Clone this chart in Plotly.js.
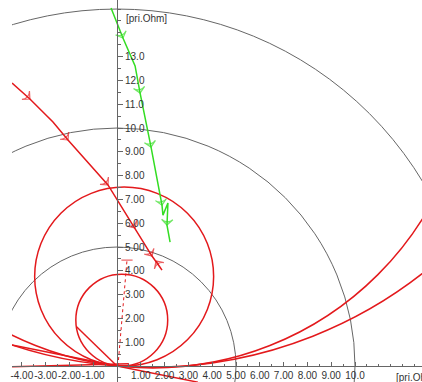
<!DOCTYPE html>
<html><head><meta charset="utf-8">
<script src="https://cdn.plot.ly/plotly-3.0.1.min.js"></script>
<style>html,body{margin:0;padding:0;background:#fff}#chart{width:422px;height:382px}</style>
</head><body><div id="chart"></div>
<script>
// Reference impedance circles (radius, Ohm)
const refRadii = [5, 10, 15];
// Red characteristic circles: centre and radius (Ohm)
const mhoCx = [0.3, 0.2, 1.5, 1.4];
const mhoCy = [3.76, 1.93, 13.3, 18.5];
const mhoR  = [3.76, 1.93, 13.38, 18.55];
// Red straight characteristic lines
const dirLineX = [-4.41, 3.4];   const dirLineY = [0.88, -0.68];
const chordX   = [-1.7, 0];      const chordY   = [1.65, 0];
const lowLineX = [-4.41, 0.5];   const lowLineY = [-0.03, 0.1];
// Dotted setting line
const setX = [0.04, 0.42];       const setY = [0, 4.45];
// Red impedance trajectory
const redX = [-4.41, -3.66, -2.69, -2.06, -0.38, 0.76, 1.47, 1.89, 1.64];
const redY = [11.89, 11.22, 10.25, 9.50, 7.61, 5.80, 4.62, 4.03, 4.41];
const redArrowIdx = [1, 3, 4, 5, 6, 8];
// Green impedance trajectory
const greenX = [-0.25, 0.25, 0.76, 0.97, 1.43, 1.89, 1.93, 2.14, 2.10, 2.23];
const greenY = [15.04, 13.78, 12.61, 11.47, 9.20, 6.76, 6.34, 6.85, 5.92, 5.21];
const greenArrowIdx = [1, 3, 4, 5, 8];
// Tick labels
const xTickVals = [-4, -3, -2, -1, 1, 2, 3, 4, 5, 6, 7, 8, 9, 10];
const xTickText = ['-4.00','-3.00','-2.00','-1.00','1.00','2.00','3.00','4.00','5.00','6.00','7.00','8.00','9.00','10.0'];
const yTickVals = [1, 2, 3, 4, 5, 6, 7, 8, 9, 10, 11, 12, 13];
const yTickText = ['1.00','2.00','3.00','4.00','5.00','6.00','7.00','8.00','9.00','10.0','11.0','12.0','13.0'];
const unitLabel = '[pri.Ohm]';

const RED = '#e3191c', GREEN = '#33dd22', GRAY = '#666666';
const xRange = [-4.412, 12.815];
const yRange = [-0.672, 15.38];

function arrowSizes(n, idx, s) { const a = new Array(n).fill(0); idx.forEach(i => a[i] = s); return a; }

const traces = [
  {x: dirLineX, y: dirLineY, mode: 'lines', line: {color: RED, width: 1.5}},
  {x: chordX, y: chordY, mode: 'lines', line: {color: RED, width: 1.5}},
  {x: lowLineX, y: lowLineY, mode: 'lines', line: {color: RED, width: 1.5}},
  {x: setX, y: setY, mode: 'lines+markers', line: {color: RED, width: 1, dash: 'dot'},
   marker: {symbol: 'line-ew-open', size: [0, 8], line: {color: RED, width: 1.2}}},
  {x: redX, y: redY, mode: 'lines+markers', line: {color: RED, width: 1.5},
   marker: {symbol: 'arrow-wide-open', angleref: 'previous', size: arrowSizes(redX.length, redArrowIdx, 8), color: RED, line: {color: RED, width: 1.2}}},
  {x: greenX, y: greenY, mode: 'lines+markers', line: {color: GREEN, width: 1.5},
   marker: {symbol: 'arrow-wide-open', angleref: 'previous', size: arrowSizes(greenX.length, greenArrowIdx, 8), color: GREEN, line: {color: GREEN, width: 1.2}}}
];

const shapes = [];
refRadii.forEach(r => shapes.push({type: 'circle', xref: 'x', yref: 'y', x0: -r, x1: r, y0: -r, y1: r,
  line: {color: GRAY, width: 1}, layer: 'below'}));
mhoR.forEach((r, i) => shapes.push({type: 'circle', xref: 'x', yref: 'y',
  x0: mhoCx[i] - r, x1: mhoCx[i] + r, y0: mhoCy[i] - r, y1: mhoCy[i] + r,
  line: {color: RED, width: 1.5}, layer: 'below'}));

const tickFont = {family: 'Liberation Sans, Arial, sans-serif', size: 10, color: '#333'};
const layout = {
  width: 422, height: 382,
  margin: {l: 12, r: 0, t: 0, b: 0},
  paper_bgcolor: '#fff', plot_bgcolor: '#fff',
  showlegend: false,
  xaxis: {range: xRange, showgrid: false, zeroline: false, showline: true, linecolor: GRAY, linewidth: 1,
    anchor: 'free', position: (0 - yRange[0]) / (yRange[1] - yRange[0]), side: 'bottom',
    tickmode: 'array', tickvals: xTickVals, ticktext: xTickText, tickangle: 0, ticks: 'inside', ticklen: 4, tickcolor: GRAY,
    tickfont: tickFont, automargin: false, ticklabelstandoff: 0,
    minor: {tickmode: 'linear', tick0: 0, dtick: 0.5, ticks: 'inside', ticklen: 2, tickcolor: GRAY}},
  yaxis: {range: yRange, showgrid: false, zeroline: false, showline: true, linecolor: GRAY, linewidth: 1,
    anchor: 'free', position: (0 - xRange[0]) / (xRange[1] - xRange[0]), side: 'right',
    tickmode: 'array', tickvals: yTickVals, ticktext: yTickText, tickangle: 0, ticks: 'outside', ticklen: 5, tickcolor: GRAY,
    tickfont: tickFont, automargin: false,
    minor: {tickmode: 'linear', tick0: 0, dtick: 0.5, ticks: 'outside', ticklen: 3, tickcolor: GRAY}},
  shapes: shapes,
  annotations: [
    {text: unitLabel, xref: 'x', yref: 'y', x: 0.3, y: 14.6, xanchor: 'left', yanchor: 'middle', showarrow: false, font: tickFont},
    {text: unitLabel, xref: 'x', yref: 'y', x: 11.62, y: -0.5, xanchor: 'left', yanchor: 'middle', showarrow: false, font: tickFont}
  ]
};
Plotly.newPlot('chart', traces, layout, {displayModeBar: false, staticPlot: true});
</script></body></html>
